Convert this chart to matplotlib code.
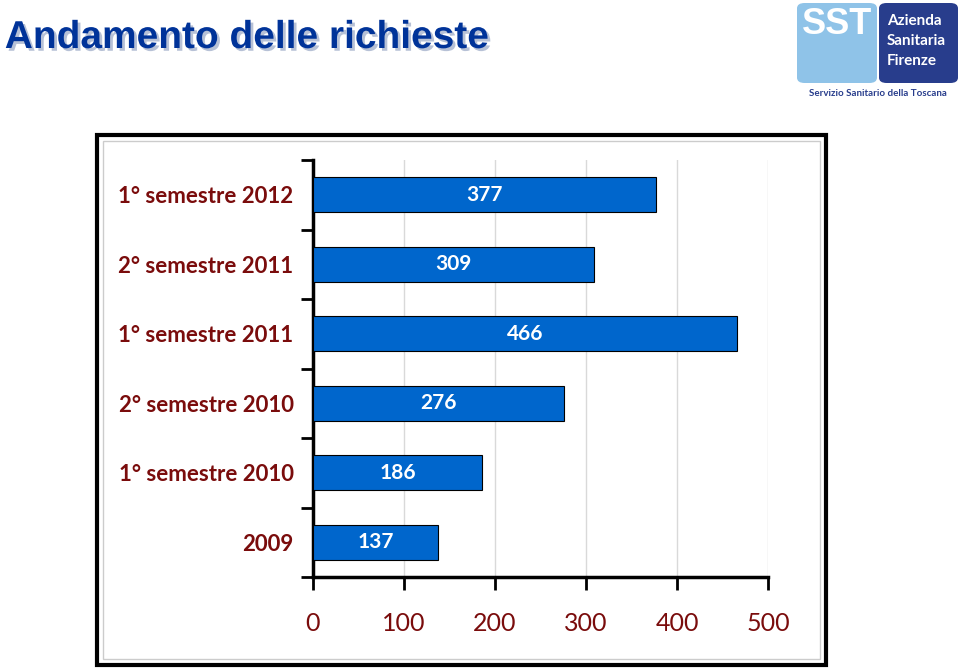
import matplotlib.pyplot as plt
import matplotlib.patheffects as pe
from matplotlib.patches import Rectangle, FancyBboxPatch
import numpy as np

# data, bottom to top as drawn
periodi = ["2009", "1° semestre 2010", "2° semestre 2010",
           "1° semestre 2011", "2° semestre 2011", "1° semestre 2012"]
richieste = [137, 186, 276, 466, 309, 377]
x_ticks = [0, 100, 200, 300, 400, 500]

RED = "#7a0c0c"
BAR = "#0066cc"

plt.rcParams['font.family'] = ['Lato', 'DejaVu Sans']

fig = plt.figure(figsize=(9.6, 6.68), dpi=100)

# title with shadow
fig.text(0.005, 1 - 38/668, "Andamento delle richieste", fontsize=28, fontweight='bold',
         color="#003399", family=['Liberation Sans', 'DejaVu Sans'], va='center',
         path_effects=[pe.withSimplePatchShadow(offset=(2, -2), shadow_rgbFace='#8899bb', alpha=0.6)])

# logo (approximation)
fig.patches.append(FancyBboxPatch((797/960, 1-83/668), 80/960, 80/668, boxstyle="round,pad=0,rounding_size=0.008",
                                  transform=fig.transFigure, facecolor="#8fc3e8", edgecolor='none'))
fig.patches.append(FancyBboxPatch((879/960, 1-83/668), 79/960, 80/668, boxstyle="round,pad=0,rounding_size=0.008",
                                  transform=fig.transFigure, facecolor="#283d8c", edgecolor='none'))
fig.text(837/960, 1-24/668, "SST", fontsize=26, fontweight='bold', color='white', ha='center', va='center',
         family=['Liberation Sans', 'DejaVu Sans'])
for i, w in enumerate(["Azienda", "Sanitaria", "Firenze"]):
    fig.text(887/960, 1-(21 + i*20)/668, w, fontsize=11, fontweight='bold', color='white', va='center')
fig.text(878/960, 1-93/668, "Servizio Sanitario della Toscana", fontsize=7, fontweight='bold',
         color="#283d8c", ha='center', va='center')

# frame around the chart
fig.patches.append(Rectangle((97/960, 1-665/668), 729/960, 530/668, transform=fig.transFigure,
                             fill=False, edgecolor='black', linewidth=3))
fig.patches.append(Rectangle((103/960, 1-659/668), 717/960, 518/668, transform=fig.transFigure,
                             fill=False, edgecolor='#cccccc', linewidth=1))

ax = fig.add_axes([313/960, 1-577/668, 455/960, 417/668])
y = np.arange(len(periodi))
bars = ax.barh(y, richieste, height=0.5, color=BAR, edgecolor='black', linewidth=0.8, zorder=3)

for b, v in zip(bars, richieste):
    ax.text(b.get_x() + b.get_width() / 2, b.get_y() + b.get_height() / 2, str(v),
            ha='center', va='center', color='white', fontsize=15, fontweight='bold', zorder=4)

ax.set_xlim(0, 500)
ax.set_ylim(-0.5, len(periodi) - 0.5)
ax.set_xticks(x_ticks)
ax.set_xticklabels([str(t) for t in x_ticks], fontsize=18, color=RED)
ax.tick_params(axis='x', direction='out', length=9, width=2, pad=16)

ax.set_yticks(np.arange(len(periodi) + 1) - 0.5)
ax.set_yticklabels([])
ax.set_yticks(y, minor=True)
ax.set_yticklabels(periodi, minor=True, fontsize=16, fontweight='bold', color=RED)
ax.tick_params(axis='y', which='major', direction='out', length=9, width=2)
ax.tick_params(axis='y', which='minor', length=0, pad=14)

ax.grid(axis='x', color='#d9d9d9', linewidth=1, zorder=0)
ax.set_axisbelow(True)
for s in ['top', 'right']:
    ax.spines[s].set_visible(False)
for s in ['left', 'bottom']:
    ax.spines[s].set_linewidth(2.5)

fig.savefig("out.png", dpi=100)
